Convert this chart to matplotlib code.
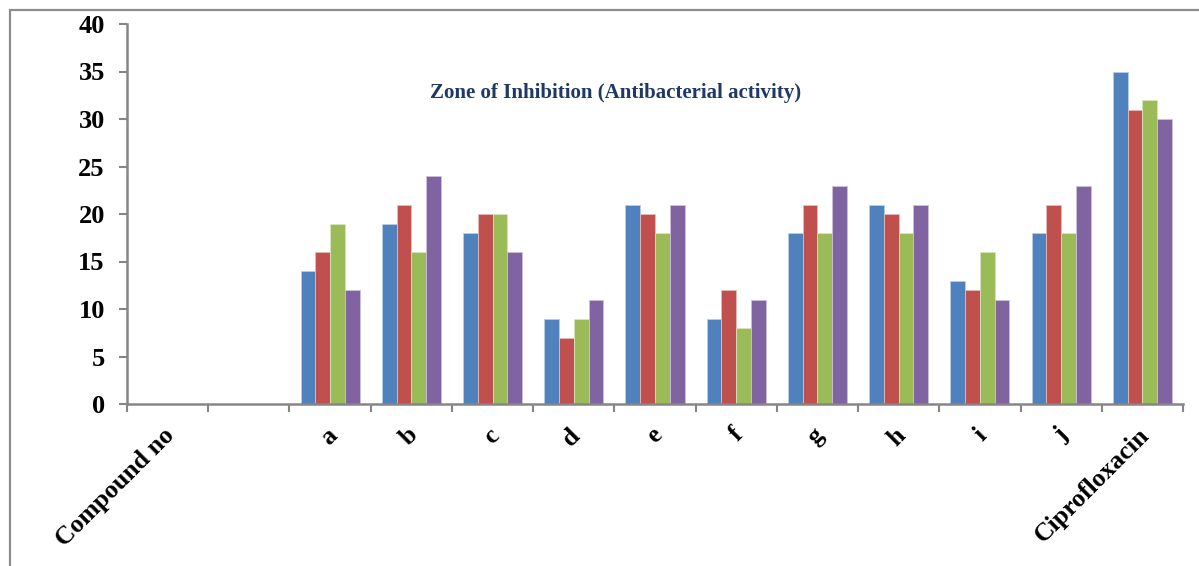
"""
Zone of inhibition (antibacterial activity) - grouped bar chart
"""

import numpy as np
import matplotlib
matplotlib.use('Agg')
import matplotlib.pyplot as plt
from matplotlib.patches import Rectangle

# categories on the x axis (first two have no bars)
categories = ['Compound no', '', 'a', 'b', 'c', 'd', 'e', 'f', 'g', 'h', 'i', 'j',
              'Ciprofloxacin']

# four series, one value per category
series_1 = [np.nan, np.nan, 14, 19, 18, 9, 21, 9, 18, 21, 13, 18, 35]
series_2 = [np.nan, np.nan, 16, 21, 20, 7, 20, 12, 21, 20, 12, 21, 31]
series_3 = [np.nan, np.nan, 19, 16, 20, 9, 18, 8, 18, 18, 16, 18, 32]
series_4 = [np.nan, np.nan, 12, 24, 16, 11, 21, 11, 23, 21, 11, 23, 30]

y_ticks = [0, 5, 10, 15, 20, 25, 30, 35, 40]

COLORS = ['#4F81BD', '#C0504D', '#9BBB59', '#8064A2']
EDGES = ['#B9CDE5', '#E6B9B8', '#D7E4BD', '#CCC1DA']
GRAY = '#868686'

plt.rcParams['font.family'] = ['Liberation Serif', 'DejaVu Serif']
plt.rcParams['font.weight'] = 'bold'

W, H = 1199, 566
fig = plt.figure(figsize=(W / 100, H / 100), dpi=100)

# outer chart frame (cut off at right and bottom like the original)
fig.patches.append(Rectangle((10 / W, -0.2), 1.5, 0.2 + 556 / H,
                             transform=fig.transFigure, fill=False,
                             edgecolor='#8C8C8C', linewidth=1.6))

ax = fig.add_axes([127 / W, 162 / H, (1183 - 127) / W, 380 / H])

x = np.arange(len(categories))
bw = 1 / 5.5
for i, vals in enumerate([series_1, series_2, series_3, series_4]):
    ax.bar(x + (i - 1.5) * bw, vals, width=bw, color=COLORS[i],
           edgecolor=EDGES[i], linewidth=0.6)

ax.set_xlim(-0.5, len(categories) - 0.5)
ax.set_ylim(0, 40)
ax.set_yticks(y_ticks)
ax.set_yticklabels([str(v) for v in y_ticks], fontsize=19, fontweight='bold')

ax.set_xticks(x + 0.04)
ax.set_xticklabels(categories, fontsize=18.5, fontweight='bold', rotation=45,
                   ha='right', va='center', rotation_mode='anchor')
ax.set_xticks(np.arange(len(categories) + 1) - 0.5, minor=True)
ax.tick_params(axis='x', which='major', length=0, pad=20)
ax.tick_params(axis='x', which='minor', length=6, color=GRAY, width=1.5,
               direction='out')
ax.tick_params(axis='y', length=6, color=GRAY, width=1.5, direction='out',
               pad=10)

for s in ['top', 'right']:
    ax.spines[s].set_visible(False)
for s in ['left', 'bottom']:
    ax.spines[s].set_color(GRAY)
    ax.spines[s].set_linewidth(1.8)

fig.text(616 / W, 1 - 93 / H, 'Zone of Inhibition (Antibacterial activity)',
         ha='center', va='center', fontsize=15, fontweight='bold',
         color='#1F3864')

fig.savefig('out.png', dpi=100)
